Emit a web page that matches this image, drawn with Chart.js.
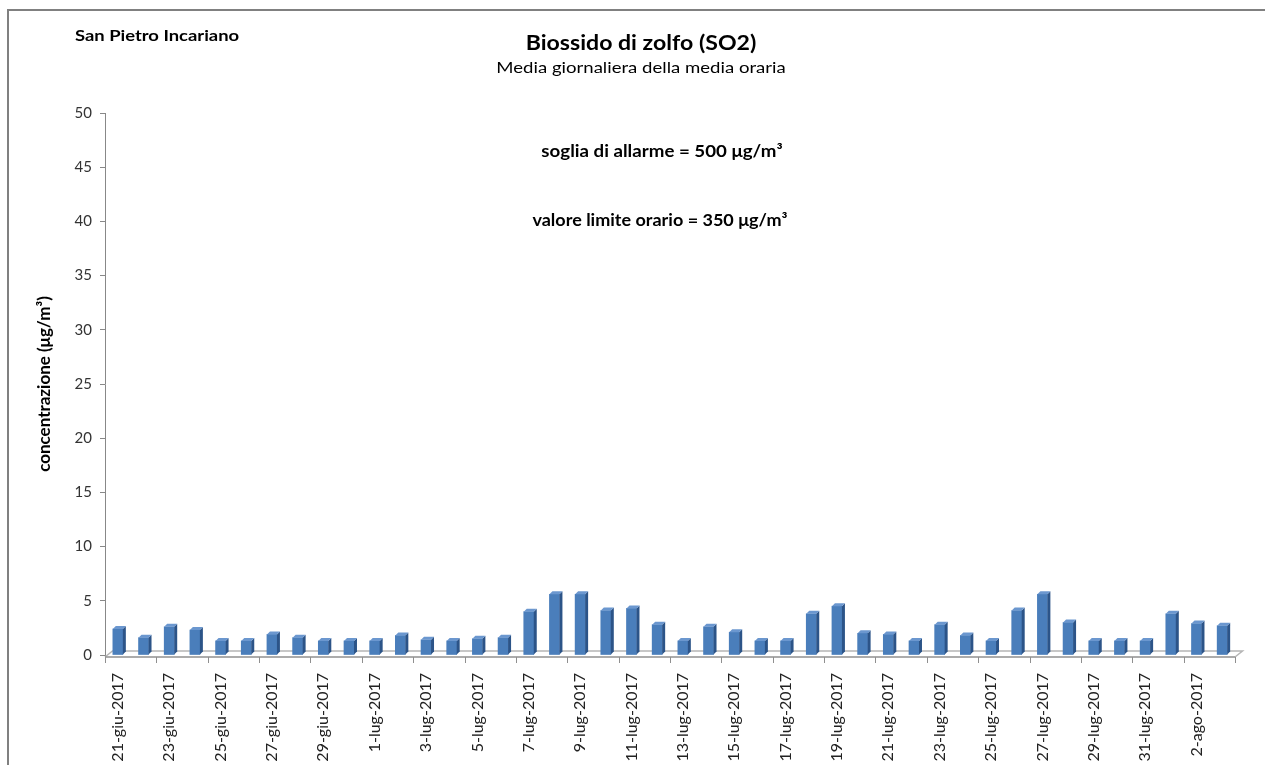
<!DOCTYPE html>
<html>
<head>
<meta charset="utf-8">
<script src="https://cdn.jsdelivr.net/npm/chart.js@4/dist/chart.umd.min.js"></script>
<style>
  html, body { margin: 0; padding: 0; background: #fff; }
  #wrap { width: 1265px; height: 765px; position: relative; }
</style>
</head>
<body>
<div id="wrap"><canvas id="c" width="1265" height="765"></canvas></div>
<script>
// Daily dates of the measurement period
const dates = [
  '21-giu-2017','22-giu-2017','23-giu-2017','24-giu-2017','25-giu-2017','26-giu-2017',
  '27-giu-2017','28-giu-2017','29-giu-2017','30-giu-2017',
  '1-lug-2017','2-lug-2017','3-lug-2017','4-lug-2017','5-lug-2017','6-lug-2017',
  '7-lug-2017','8-lug-2017','9-lug-2017','10-lug-2017','11-lug-2017','12-lug-2017',
  '13-lug-2017','14-lug-2017','15-lug-2017','16-lug-2017','17-lug-2017','18-lug-2017',
  '19-lug-2017','20-lug-2017','21-lug-2017','22-lug-2017','23-lug-2017','24-lug-2017',
  '25-lug-2017','26-lug-2017','27-lug-2017','28-lug-2017','29-lug-2017','30-lug-2017',
  '31-lug-2017','1-ago-2017','2-ago-2017','3-ago-2017'
];

// SO2 daily mean of the hourly means (µg/m³)
const so2Values = [
  2.4, 1.6, 2.6, 2.3, 1.3, 1.3, 1.9, 1.6, 1.3, 1.3,
  1.3, 1.8, 1.4, 1.3, 1.5, 1.6, 4.0, 5.6, 5.6, 4.1,
  4.3, 2.8, 1.3, 2.6, 2.1, 1.3, 1.3, 3.8, 4.5, 2.0,
  1.9, 1.3, 2.8, 1.8, 1.3, 4.1, 5.6, 3.0, 1.3, 1.3,
  1.3, 3.8, 2.9, 2.7
];

// Y axis range
const yMin = 0;
const yMax = 50;
const yStep = 5;

const stationName = 'San Pietro Incariano';
const chartTitle = 'Biossido di zolfo (SO2)';
const chartSubtitle = 'Media giornaliera della media oraria';
const noteAlarm = 'soglia di allarme = 500 μg/m³';
const noteLimit = 'valore limite orario = 350 μg/m³';
const yTitle = 'concentrazione (μg/m³)';

const FONT = 'Lato, "Open Sans", sans-serif';
const DEPTH = 3; // pseudo-3D depth of bars and floor

// draws text widened horizontally by factor sx
function wideText(ctx, text, x, y, font, sx, align) {
  ctx.save();
  ctx.font = font;
  ctx.textBaseline = 'middle';
  ctx.textAlign = 'left';
  const w = ctx.measureText(text).width * sx;
  let x0 = x;
  if (align === 'center') x0 = x - w / 2;
  ctx.translate(x0, y);
  ctx.scale(sx, 1);
  ctx.fillText(text, 0, 0);
  ctx.restore();
}

// Frame, floor, bar side faces, texts
const decor = {
  id: 'decor',
  beforeDraw(chart) {
    const ctx = chart.ctx;
    ctx.save();
    ctx.fillStyle = '#ffffff';
    ctx.fillRect(0, 0, chart.width, chart.height);
    ctx.strokeStyle = '#808080';
    ctx.lineWidth = 2;
    ctx.strokeRect(8, 10, chart.width + 20, chart.height + 20);
    ctx.restore();
  },
  beforeDatasetsDraw(chart) {
    const ctx = chart.ctx;
    const a = chart.chartArea;
    const y0 = chart.scales.y.getPixelForValue(0);
    ctx.save();
    // floor back edge and side edges
    ctx.strokeStyle = '#b5b5b5';
    ctx.lineWidth = 1.5;
    ctx.beginPath();
    ctx.moveTo(a.left, y0 + 2);
    ctx.lineTo(a.left + DEPTH * 2.5, y0 - 4);
    ctx.lineTo(a.right + DEPTH * 2.5, y0 - 4);
    ctx.lineTo(a.right, y0 + 2);
    ctx.stroke();
    ctx.restore();
  },
  afterDatasetsDraw(chart) {
    const ctx = chart.ctx;
    const a = chart.chartArea;
    const y0 = chart.scales.y.getPixelForValue(0);
    const meta = chart.getDatasetMeta(0);
    ctx.save();
    meta.data.forEach(bar => {
      const p = bar.getProps(['x', 'y', 'base', 'width'], true);
      const l = p.x - p.width / 2, r = p.x + p.width / 2;
      // side face
      ctx.fillStyle = '#2c5488';
      ctx.beginPath();
      ctx.moveTo(r, p.y);
      ctx.lineTo(r + DEPTH, p.y - DEPTH);
      ctx.lineTo(r + DEPTH, p.base - DEPTH);
      ctx.lineTo(r, p.base);
      ctx.closePath();
      ctx.fill();
      // top face
      ctx.fillStyle = '#6b97cf';
      ctx.beginPath();
      ctx.moveTo(l, p.y);
      ctx.lineTo(l + DEPTH, p.y - DEPTH);
      ctx.lineTo(r + DEPTH, p.y - DEPTH);
      ctx.lineTo(r, p.y);
      ctx.closePath();
      ctx.fill();
    });
    // floor front edge
    ctx.strokeStyle = '#8f8f8f';
    ctx.lineWidth = 1.5;
    ctx.beginPath();
    ctx.moveTo(a.left, y0 + 2);
    ctx.lineTo(a.right, y0 + 2);
    ctx.stroke();
    // category tick marks every two days
    const w = (a.right - a.left) / dates.length;
    ctx.strokeStyle = '#8f8f8f';
    ctx.lineWidth = 1;
    for (let i = 0; i <= dates.length; i += 2) {
      const x = Math.round(a.left + i * w) + 0.5;
      ctx.beginPath();
      ctx.moveTo(x, y0 + 2);
      ctx.lineTo(x, y0 + 8);
      ctx.stroke();
    }
    ctx.restore();
  },
  afterDraw(chart) {
    const ctx = chart.ctx;
    ctx.save();
    ctx.fillStyle = '#000';
    wideText(ctx, stationName, 75, 36, 'bold 16px ' + FONT, 1.15, 'left');
    wideText(ctx, chartTitle, 641, 43, 'bold 21px ' + FONT, 1.1, 'center');
    wideText(ctx, chartSubtitle, 641, 68, '16px ' + FONT, 1.16, 'center');
    wideText(ctx, noteAlarm, 662, 152, 'bold 17px ' + FONT, 1.1, 'center');
    wideText(ctx, noteLimit, 660, 221, 'bold 17px ' + FONT, 1.06, 'center');
    // y axis title
    ctx.translate(45, (chart.chartArea.top + chart.chartArea.bottom) / 2);
    ctx.rotate(-Math.PI / 2);
    ctx.font = 'bold 17px ' + FONT;
    ctx.textAlign = 'center';
    ctx.textBaseline = 'middle';
    ctx.fillText(yTitle, 0, 0);
    ctx.restore();
  }
};

new Chart(document.getElementById('c'), {
  type: 'bar',
  data: {
    labels: dates,
    datasets: [{
      data: so2Values,
      backgroundColor: '#4a7ebb',
      borderWidth: 0,
      barThickness: 10
    }]
  },
  options: {
    responsive: false,
    animation: false,
    events: [],
    layout: { padding: { left: 10, top: 113, right: 30, bottom: 0 } },
    plugins: { legend: { display: false }, tooltip: { enabled: false }, title: { display: false } },
    scales: {
      x: {
        grid: { display: false },
        border: { display: false },
        ticks: {
          autoSkip: false,
          maxRotation: 90,
          minRotation: 90,
          padding: 10,
          color: '#222',
          font: { family: FONT, size: 16 },
          callback: function (v, i) { return i % 2 === 0 ? this.getLabelForValue(v) : ''; }
        },
        afterFit(scale) { scale.height = 110; }
      },
      y: {
        min: yMin,
        max: yMax,
        ticks: {
          stepSize: yStep,
          padding: 8,
          color: '#333',
          font: { family: FONT, size: 15 }
        },
        grid: { drawOnChartArea: false, drawTicks: true, tickLength: 5, color: '#888' },
        border: { display: true, color: '#888' },
        afterFit(scale) { scale.width = 95; }
      }
    }
  },
  plugins: [decor]
});
</script>
</body>
</html>
